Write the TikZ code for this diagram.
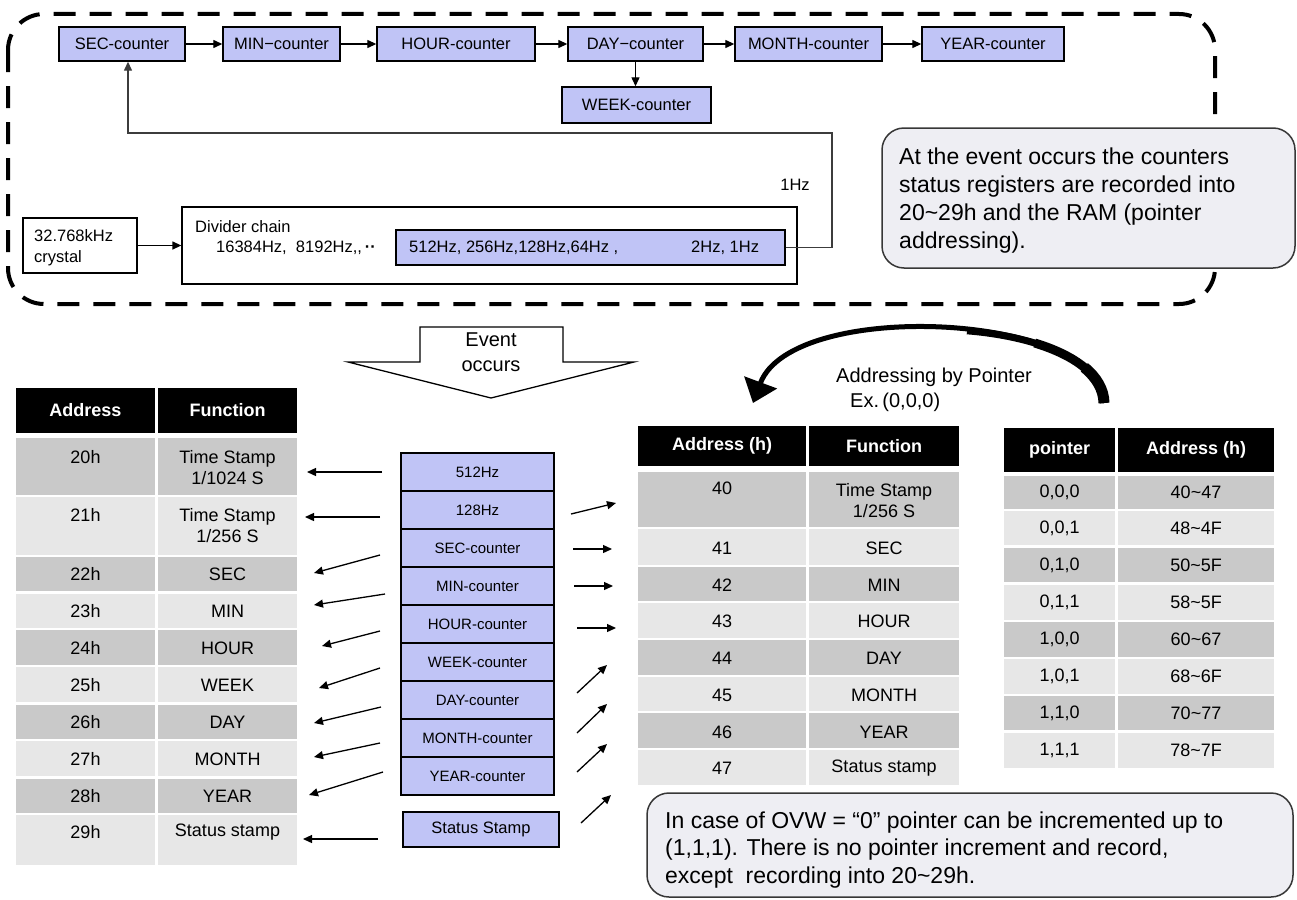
\documentclass[tikz,border=0pt]{standalone}
\usepackage{fontspec}
\setmainfont{Liberation Sans}
\usetikzlibrary{arrows.meta}
\definecolor{boxblue}{RGB}{192,196,246}
\definecolor{rowdark}{RGB}{201,201,201}
\definecolor{rowlight}{RGB}{231,231,231}
\definecolor{callfill}{RGB}{238,238,243}
\definecolor{calline}{RGB}{55,55,55}
\definecolor{fbgray}{RGB}{60,60,60}
\newcommand\myctr{\fontsize{16.5pt}{19pt}\selectfont}
\newcommand\mystk{\fontsize{15pt}{18pt}\selectfont}
\newcommand\mytab{\fontsize{18pt}{21pt}\selectfont}
\newcommand\myhdr{\bfseries\fontsize{18pt}{21pt}\selectfont}
\newcommand\mycall{\fontsize{23pt}{28pt}\selectfont}
\newcommand\mycalltwo{\fontsize{23pt}{27.5pt}\selectfont}
\newcommand\mybig{\fontsize{20pt}{25pt}\selectfont}
\newcommand\mytil{\char"7E\relax}
\tikzset{
  ctr/.style={draw=black, fill=boxblue, line width=1.4pt, inner sep=0pt, font=\myctr},
  stk/.style={draw=black, fill=boxblue, line width=1.6pt, inner sep=0pt, font=\mystk},
  arr/.style={line width=1.3pt, -{Triangle[length=9pt,width=8pt]}},
  lbl/.style={inner sep=0pt, font=\myctr},
  htxt/.style={inner sep=0pt, text=white, font=\myhdr},
  ctxt/.style={inner sep=0pt, font=\mytab, align=center},
  callout/.style={draw=calline, fill=callfill, line width=1.5pt, rounded corners=22pt},
  frame/.style={line width=4pt, dash pattern=on 22pt off 14pt, rounded corners=36pt},
}
\begin{document}
\begin{tikzpicture}[x=1pt,y=-1pt]
\useasboundingbox (0,0) rectangle (1297,899);

% ---------------- top frame ----------------
\draw[frame] (8,14) rectangle (1215,304);

% counters
\node[ctr, minimum width=126pt, minimum height=34pt] (sec) at (122,44) {SEC-counter};
\node[ctr, minimum width=117pt, minimum height=34pt] (min) at (281.5,44) {MIN−counter};
\node[ctr, minimum width=158pt, minimum height=34pt] (hour) at (456,44) {HOUR-counter};
\node[ctr, minimum width=135pt, minimum height=34pt] (day) at (635.5,44) {DAY−counter};
\node[ctr, minimum width=147pt, minimum height=34pt] (month) at (808.5,44) {MONTH-counter};
\node[ctr, minimum width=142pt, minimum height=34pt] (year) at (993,44) {YEAR-counter};
\node[ctr, minimum width=149pt, minimum height=36pt] (week) at (636.5,105) {WEEK-counter};
\draw[arr] (sec) -- (min);
\draw[arr] (min) -- (hour);
\draw[arr] (hour) -- (day);
\draw[arr] (day) -- (month);
\draw[arr] (month) -- (year);
\draw[arr] (day.south) -- (day.south |- week.north);

% crystal and divider
\node[draw=black, line width=1.3pt, minimum width=114pt, minimum height=55pt] (crystal) at (80,245.5) {};
\node[lbl, anchor=west, align=left, font=\fontsize{16.5pt}{21pt}\selectfont] (crystaltxt) at (34,247.5) {32.768kHz\\crystal};
\node[draw=black, line width=1.3pt, minimum width=615pt, minimum height=77pt] (divider) at (489.5,245.5) {};
\node[ctr, minimum width=389pt, minimum height=35pt] (fast) at (590.5,247.5) {};
\node[lbl, anchor=west] (divtitle) at (195,227) {Divider chain};
\node[lbl, anchor=west] (divfreq) at (216,248) {16384Hz,\ \ 8192Hz,{},\,{\bfseries··}};
\node[lbl, anchor=west] (fastA) at (409,248) {512Hz, 256Hz,128Hz,64Hz ,};
\node[lbl, anchor=west] (fastB) at (691,248) {2Hz, 1Hz};
\draw[arr] (crystal) -- (divider);
\coordinate (fbr) at (832,133);
\coordinate (fbl) at (128,133);
\draw[arr, draw=fbgray] (fast.east) -| (fbr) -- (fbl) -- (fbl |- sec.south);
\node[lbl] (onehz) at (795,185) {1Hz};

% callout 1
\node[callout, minimum width=413pt, minimum height=140pt] (note1) at (1088.5,198) {};
\node[anchor=west, align=left, inner sep=0pt, font=\mycall] (note1txt) at (899,201)
  {At the event occurs the counters\\status registers are recorded into\\20\mytil29h and the RAM (pointer\\addressing).};

% ---------------- event arrow ----------------
\draw[line width=1.3pt, fill=white] (420,327) -- (563,327) -- (563,362) -- (634,362) -- (491,398) -- (348,362) -- (420,362) -- cycle;
\node[inner sep=0pt, align=center, font=\mybig] (event) at (491,352) {Event\\occurs};

% curved pointer arrow (tapered: thicker at its start)
\coordinate (arcS) at (1104,403);
\coordinate (arcE) at (753,403);
\draw[line width=5pt, -{Triangle[length=22pt,width=34pt]}] (arcS) .. controls (1102,312) and (792,298) .. (arcE);
\draw[line width=7pt] (arcS) .. controls (1103.1,362.05) and (1039.8,336.7) .. (967.0,330.8);
\draw[line width=9pt] (arcS) .. controls (1103.4,375.7) and (1075.1,355.3) .. (1034.7,343.0);
\draw[line width=11pt] (arcS) .. controls (1103.7,389.35) and (1096.5,377.4) .. (1084.3,367.4);
\node[anchor=west, inner sep=0pt, font=\mybig] (addrtxt) at (836,377) {Addressing by Pointer};
\node[anchor=west, inner sep=0pt, font=\mybig] (extxt) at (850,402) {Ex.\,(0,0,0)};

% ---------------- left table ----------------
\fill[black] (16,388) rectangle (155,433);
\fill[black] (158,388) rectangle (297,433);
\foreach \t/\b/\c in {438/495/rowdark, 497/555/rowlight, 557/591/rowdark, 594/628/rowlight, 630/665/rowdark, 667/702/rowlight, 705/739/rowdark, 741/776/rowlight, 779/813/rowdark, 815/865/rowlight}{
  \fill[\c] (16,\t) rectangle (155,\b);
  \fill[\c] (158,\t) rectangle (297,\b);
}
\node[htxt] (lhA) at (85.5,410.5) {Address};
\node[htxt] (lhB) at (227.5,410.5) {Function};
\node[ctxt] (l20a) at (85.5,457) {20h};
\node[ctxt] (l20b) at (227.5,467.5) {Time Stamp\\1/1024 S};
\node[ctxt] (l21a) at (85.5,515) {21h};
\node[ctxt] (l21b) at (227.5,526) {Time Stamp\\1/256 S};
\node[ctxt] (l22a) at (85.5,574) {22h};
\node[ctxt] (l22b) at (227.5,574) {SEC};
\node[ctxt] (l23a) at (85.5,611) {23h};
\node[ctxt] (l23b) at (227.5,611) {MIN};
\node[ctxt] (l24a) at (85.5,648) {24h};
\node[ctxt] (l24b) at (227.5,648) {HOUR};
\node[ctxt] (l25a) at (85.5,685) {25h};
\node[ctxt] (l25b) at (227.5,685) {WEEK};
\node[ctxt] (l26a) at (85.5,722) {26h};
\node[ctxt] (l26b) at (227.5,722) {DAY};
\node[ctxt] (l27a) at (85.5,759) {27h};
\node[ctxt] (l27b) at (227.5,759) {MONTH};
\node[ctxt] (l28a) at (85.5,796) {28h};
\node[ctxt] (l28b) at (227.5,796) {YEAR};
\node[ctxt] (l29a) at (85.5,832) {29h};
\node[ctxt] (l29b) at (227.5,832) {Status stamp};

% ---------------- middle stack ----------------
\node[stk, minimum width=153pt, minimum height=38pt] (s1) at (477.5,472) {512Hz};
\node[stk, minimum width=153pt, minimum height=38pt] (s2) at (477.5,510) {128Hz};
\node[stk, minimum width=153pt, minimum height=38pt] (s3) at (477.5,548) {SEC-counter};
\node[stk, minimum width=153pt, minimum height=38pt] (s4) at (477.5,586) {MIN-counter};
\node[stk, minimum width=153pt, minimum height=38pt] (s5) at (477.5,624) {HOUR-counter};
\node[stk, minimum width=153pt, minimum height=38pt] (s6) at (477.5,662) {WEEK-counter};
\node[stk, minimum width=153pt, minimum height=38pt] (s7) at (477.5,700) {DAY-counter};
\node[stk, minimum width=153pt, minimum height=38pt] (s8) at (477.5,738) {MONTH-counter};
\node[stk, minimum width=153pt, minimum height=38pt] (s9) at (477.5,776) {YEAR-counter};
\node[stk, minimum width=156pt, minimum height=35pt, font=\fontsize{16.5pt}{19pt}\selectfont] (sst) at (481,829.5) {Status Stamp};

% arrows to left table
\foreach \n/\ax/\ay/\bx/\by in {1/382/472/307/472, 2/380/517/305/517, 3/380/555/314/573, 4/385/594/314/605, 5/380/631/322/646, 6/380/668/319/688, 7/381/707/314/723, 8/380/743/314/757, 9/383/772/309/795, 10/378/839/303/839}{
  \coordinate (la\n) at (\ax,\ay);
  \coordinate (lb\n) at (\bx,\by);
  \draw[arr] (la\n) -- (lb\n);
}
% arrows to middle table
\foreach \n/\ax/\ay/\bx/\by in {1/571/514/616/503, 2/573/549/612/549, 3/574/586/613/586, 4/577/628/616/628, 5/577/693/607/665, 6/577/733/607/704, 7/577/772/607/744, 8/581/823/611/795}{
  \coordinate (ra\n) at (\ax,\ay);
  \coordinate (rb\n) at (\bx,\by);
  \draw[arr] (ra\n) -- (rb\n);
}

% ---------------- middle table ----------------
\fill[black] (638,426) rectangle (806,466);
\fill[black] (809,426) rectangle (959,466);
\foreach \t/\b/\c in {472/527/rowdark, 529/565/rowlight, 567/601/rowdark, 603/638/rowlight, 640/675/rowdark, 677/711/rowlight, 713/748/rowdark, 750/785/rowlight}{
  \fill[\c] (638,\t) rectangle (806,\b);
  \fill[\c] (809,\t) rectangle (959,\b);
}
\node[htxt] (mhA) at (722,446) {Address (h)};
\node[htxt] (mhB) at (884,446) {Function};
\node[ctxt] (m40a) at (722,488) {40};
\node[ctxt] (m40b) at (884,500.5) {Time Stamp\\1/256 S};
\node[ctxt] (m41a) at (722,548) {41};
\node[ctxt] (m41b) at (884,548) {SEC};
\node[ctxt] (m42a) at (722,585) {42};
\node[ctxt] (m42b) at (884,585) {MIN};
\node[ctxt] (m43a) at (722,621) {43};
\node[ctxt] (m43b) at (884,621) {HOUR};
\node[ctxt] (m44a) at (722,658) {44};
\node[ctxt] (m44b) at (884,658) {DAY};
\node[ctxt] (m45a) at (722,695) {45};
\node[ctxt] (m45b) at (884,695) {MONTH};
\node[ctxt] (m46a) at (722,732) {46};
\node[ctxt] (m46b) at (884,732) {YEAR};
\node[ctxt] (m47a) at (722,768) {47};
\node[ctxt] (m47b) at (884,768) {Status stamp};

% ---------------- right table ----------------
\fill[black] (1004,428) rectangle (1115,472);
\fill[black] (1118,428) rectangle (1274,472);
\foreach \t/\b/\c in {476/509/rowdark, 511/545/rowlight, 548/582/rowdark, 585/620/rowlight, 622/657/rowdark, 659/694/rowlight, 696/730/rowdark, 733/768/rowlight}{
  \fill[\c] (1004,\t) rectangle (1115,\b);
  \fill[\c] (1118,\t) rectangle (1274,\b);
}
\node[htxt] (phA) at (1059.5,450) {pointer};
\node[htxt] (phB) at (1196,450) {Address (h)};
\node[ctxt] (p1a) at (1059.5,492.5) {0,0,0};
\node[ctxt] (p1b) at (1196,492.5) {40\mytil47};
\node[ctxt] (p2a) at (1059.5,528) {0,0,1};
\node[ctxt] (p2b) at (1196,528) {48\mytil4F};
\node[ctxt] (p3a) at (1059.5,565) {0,1,0};
\node[ctxt] (p3b) at (1196,565) {50\mytil5F};
\node[ctxt] (p4a) at (1059.5,602.5) {0,1,1};
\node[ctxt] (p4b) at (1196,602.5) {58\mytil5F};
\node[ctxt] (p5a) at (1059.5,639.5) {1,0,0};
\node[ctxt] (p5b) at (1196,639.5) {60\mytil67};
\node[ctxt] (p6a) at (1059.5,676.5) {1,0,1};
\node[ctxt] (p6b) at (1196,676.5) {68\mytil6F};
\node[ctxt] (p7a) at (1059.5,713) {1,1,0};
\node[ctxt] (p7b) at (1196,713) {70\mytil77};
\node[ctxt] (p8a) at (1059.5,750.5) {1,1,1};
\node[ctxt] (p8b) at (1196,750.5) {78\mytil7F};

% callout 2
\node[callout, minimum width=646pt, minimum height=104pt] (note2) at (970,845) {};
\node[anchor=west, align=left, inner sep=0pt, font=\mycalltwo] (note2txt) at (665,850)
  {In case of OVW = “0” pointer can be incremented up to\\(1,1,1). There is no pointer increment and record,\\except\ \ recording into 20\mytil29h.};
\end{tikzpicture}
\end{document}
